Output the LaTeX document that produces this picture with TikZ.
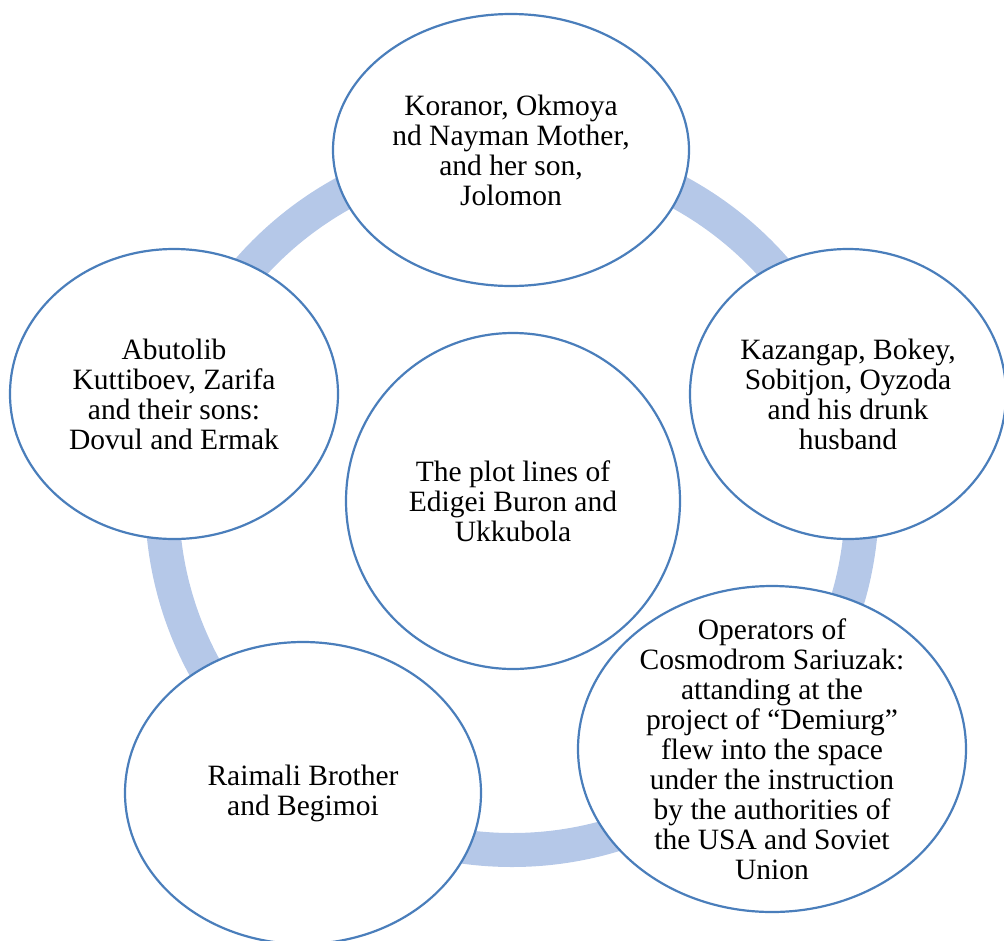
\documentclass[tikz,border=0pt]{standalone}
\usepackage{fontspec}
\setmainfont{Liberation Serif}
\usepackage{tikz}
\usetikzlibrary{shapes.geometric}
\definecolor{ringblue}{RGB}{181,200,232}
\definecolor{edgeblue}{RGB}{74,126,187}
\tikzstyle{bubble} = [ellipse, draw=edgeblue, fill=white, line width=2.2pt, inner sep=0pt]
\tikzstyle{caption} = [align=center, font=\fontsize{29.5}{30}\selectfont]
\tikzstyle{ring} = [draw=ringblue, line width=34pt]

\begin{document}
\begin{tikzpicture}[x=1pt, y=-1pt]
      \useasboundingbox (0,0) rectangle (1004,940);
      % Ring behind the bubbles
      \coordinate (hub) at (512,500);
      \path [ring] (hub) circle (350pt);
      % Bubbles
      \node [bubble, minimum width=356pt, minimum height=272pt] (koranor) at (511,150) {};
      \node [bubble, minimum width=316pt, minimum height=290pt] (kazangap) at (848,394) {};
      \node [bubble, minimum width=388pt, minimum height=326pt] (operators) at (772,749) {};
      \node [bubble, minimum width=356pt, minimum height=302pt] (raimali) at (303,793) {};
      \node [bubble, minimum width=328pt, minimum height=290pt] (abutolib) at (174,394) {};
      \node [bubble, minimum width=334pt, minimum height=336pt] (plot) at (513,501) {};
      % Texts
      \node [caption] (koranor-txt) at (koranor) {Koranor, Okmoya\\nd Nayman Mother,\\and her son,\\Jolomon};
      \node [caption] (kazangap-txt) at (kazangap) {Kazangap, Bokey,\\Sobitjon, Oyzoda\\and his drunk\\husband};
      \node [caption] (operators-txt) at (operators) {Operators of\\Cosmodrom Sariuzak:\\attanding at the\\project of ``Demiurg''\\flew into the space\\under the instruction\\by the authorities of\\the USA and Soviet\\Union};
      \node [caption] (raimali-txt) at (raimali) {Raimali Brother\\and Begimoi};
      \node [caption] (abutolib-txt) at (abutolib) {Abutolib\\Kuttiboev, Zarifa\\and their sons:\\Dovul and Ermak};
      \node [caption] (plot-txt) at (plot) {The plot lines of\\Edigei Buron and\\Ukkubola};
\end{tikzpicture}
\end{document}
